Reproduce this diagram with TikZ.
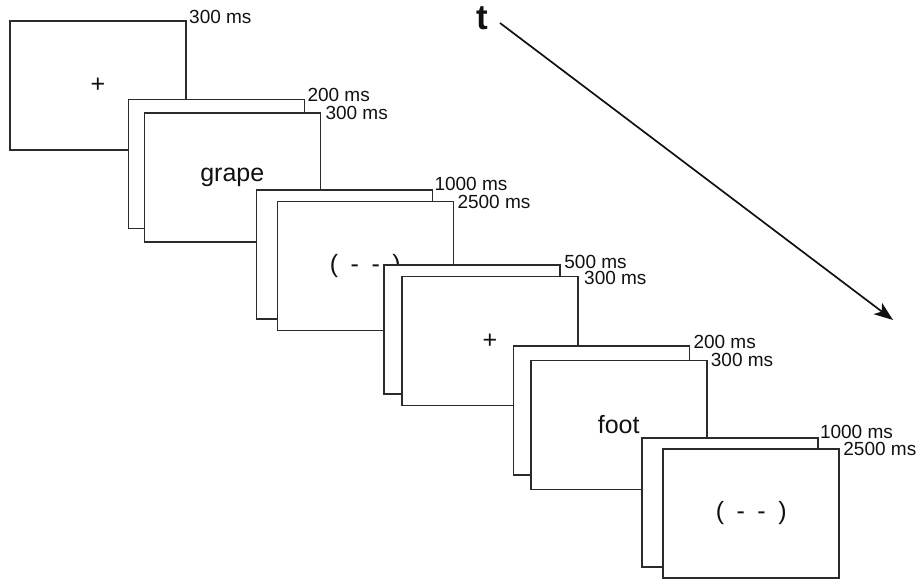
\documentclass[tikz,border=0pt]{standalone}
\usepackage{fontspec}
\setmainfont{Liberation Sans}
\usepackage{tikz}
\usetikzlibrary{
  positioning,
  arrows.meta,
  calc,
}
\definecolor{cFrame}{HTML}{2B2B2B}
\definecolor{cText} {HTML}{111111}

\newcommand{\blankcue}{(\hspace{0.5em}-\hspace{0.5em}-\hspace{0.5em})}

\begin{document}
\begin{tikzpicture}[
  x=1pt, y=-1pt,
  every node/.style={text=cText},
  %
  screen/.style={
    draw=cFrame, fill=white, line width=1.6pt,
    minimum width=176pt, minimum height=129pt,
    inner sep=0pt, outer sep=0pt,
    font=\fontsize{25}{28}\selectfont,
  },
  durlbl/.style={anchor=base west, inner sep=0pt,
                 font=\fontsize{19}{21}\selectfont},
  timelbl/.style={font=\bfseries\fontsize{35}{40}\selectfont, inner sep=0pt},
  tarr/.style={-{Stealth[length=19pt, width=14pt, inset=5pt]},
               line width=1.7pt, draw=cText},
]
\useasboundingbox (0,0) rectangle (920,581);

% ────────────── TRIAL 1 ────────────────────────────────────────────────────
\node[screen] (s1) at (98,85.5)    {+};
\node[screen] (b2) at (216.3,163.8) {};
\node[screen] (s2) at (232.3,177.5) {grape};
\node[screen] (b3) at (344.3,254.5) {};
\node[screen] (s3) at (365.3,266)   {\blankcue};

% ────────────── TRIAL 2 ────────────────────────────────────────────────────
\node[screen] (b4) at (472.2,329.5) {};
\node[screen] (s4) at (490,341)     {+};
\node[screen] (b5) at (601.3,410.5) {};
\node[screen] (s5) at (618.7,425)   {foot};
\node[screen] (b6) at (729.8,502.2) {};
\node[screen] (s6) at (751.2,513.3) {\blankcue};

% ────────────── DURATIONS ──────────────────────────────────────────────────
\node[durlbl] (d1)  at ($(s1.north east)+(3,2)$) {300 ms};
\node[durlbl] (d2a) at ($(b2.north east)+(3,2)$) {200 ms};
\node[durlbl] (d2b) at ($(s2.north east)+(5,6)$) {300 ms};
\node[durlbl] (d3a) at ($(b3.north east)+(2,0)$) {1000 ms};
\node[durlbl] (d3b) at ($(s3.north east)+(4,7)$) {2500 ms};
\node[durlbl] (d4a) at ($(b4.north east)+(4,3)$) {500 ms};
\node[durlbl] (d4b) at ($(s4.north east)+(6,8)$) {300 ms};
\node[durlbl] (d5a) at ($(b5.north east)+(4,2)$) {200 ms};
\node[durlbl] (d5b) at ($(s5.north east)+(4,6)$) {300 ms};
\node[durlbl] (d6a) at ($(b6.north east)+(2,1)$) {1000 ms};
\node[durlbl] (d6b) at ($(s6.north east)+(4,7)$) {2500 ms};

% ────────────── TIME AXIS ──────────────────────────────────────────────────
\node[timelbl] (t) at (482,18) {t};
\coordinate (tstart) at (500,23);
\coordinate (tend)   at (893,320);
\draw[tarr] (tstart) -- (tend);

\end{tikzpicture}
\end{document}
